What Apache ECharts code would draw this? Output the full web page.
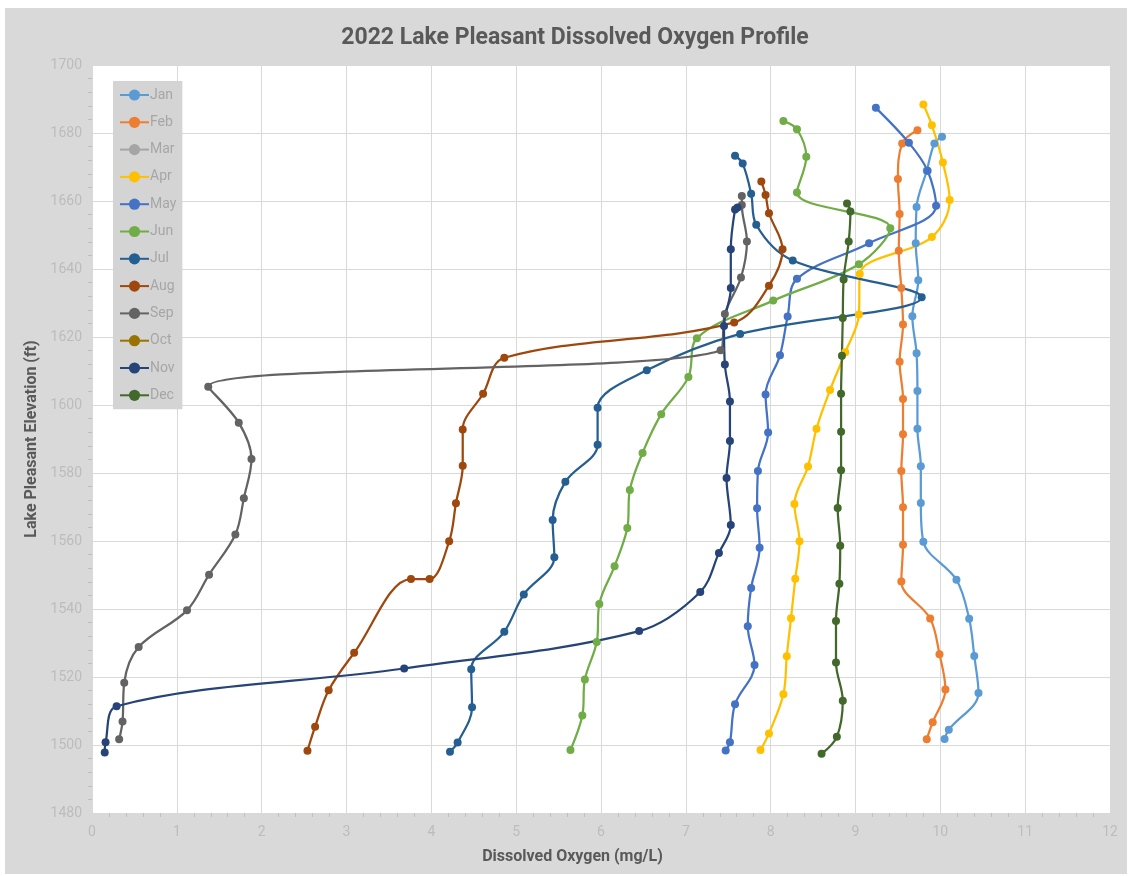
<!DOCTYPE html>
<html>
<head>
<meta charset="utf-8">
<script src="https://cdn.jsdelivr.net/npm/echarts@6/dist/echarts.min.js"></script>
<style>
  html, body { margin: 0; padding: 0; background: #ffffff; }
  #chart { position: absolute; left: 5px; top: 8px; width: 1122px; height: 866px; }
</style>
</head>
<body>
<div id="chart"></div>
<script>
// [dissolved oxygen mg/L, elevation ft]
const jan = [[10.02,1678.9],[9.93,1676.9],[9.84,1668.9],[9.72,1658.2],[9.71,1647.6],[9.74,1636.7],[9.67,1626.1],[9.72,1615.2],[9.73,1604.1],[9.73,1593.0],[9.77,1582.0],[9.77,1571.2],[9.80,1559.8],[10.19,1548.6],[10.34,1537.1],[10.40,1526.2],[10.45,1515.3],[10.10,1504.5],[10.05,1501.8]];
const feb = [[9.73,1680.8],[9.55,1676.9],[9.50,1666.5],[9.52,1656.2],[9.51,1645.4],[9.54,1634.4],[9.56,1623.7],[9.52,1612.7],[9.56,1601.8],[9.56,1591.4],[9.54,1580.6],[9.56,1569.9],[9.56,1558.9],[9.54,1548.1],[9.88,1537.2],[9.99,1526.7],[10.06,1516.3],[9.91,1506.7],[9.84,1501.7]];
const mar = [];
const apr = [[9.80,1688.4],[9.90,1682.3],[10.03,1671.3],[10.11,1660.3],[9.90,1649.4],[9.05,1638.5],[9.04,1626.6],[8.88,1615.5],[8.70,1604.4],[8.54,1593.0],[8.44,1581.9],[8.28,1570.9],[8.34,1559.9],[8.29,1548.9],[8.24,1537.3],[8.19,1526.1],[8.15,1514.9],[7.98,1503.4],[7.88,1498.5]];
const may = [[9.24,1687.4],[9.63,1677.1],[9.85,1668.9],[9.95,1658.6],[9.16,1647.6],[8.31,1637.1],[8.20,1626.0],[8.11,1614.6],[7.94,1603.1],[7.97,1591.9],[7.85,1580.6],[7.84,1569.6],[7.87,1558.0],[7.77,1546.2],[7.73,1534.9],[7.81,1523.5],[7.58,1512.0],[7.52,1500.8],[7.47,1498.4]];
const jun = [[8.15,1683.5],[8.31,1681.1],[8.42,1673.0],[8.31,1662.5],[9.41,1652.0],[9.04,1641.4],[8.03,1630.7],[7.13,1619.6],[7.03,1608.2],[6.71,1597.3],[6.49,1585.9],[6.34,1575.0],[6.31,1563.8],[6.16,1552.6],[5.98,1541.5],[5.95,1530.3],[5.81,1519.3],[5.78,1508.7],[5.64,1498.5]];
const jul = [[7.58,1673.3],[7.67,1671.0],[7.77,1662.1],[7.83,1653.0],[8.26,1642.5],[9.78,1631.7],[7.64,1620.9],[6.54,1610.2],[5.96,1599.2],[5.96,1588.3],[5.58,1577.4],[5.43,1566.2],[5.45,1555.2],[5.09,1544.3],[4.86,1533.3],[4.47,1522.3],[4.48,1511.1],[4.31,1500.7],[4.22,1498.0]];
const aug = [[7.89,1665.7],[7.94,1661.8],[7.98,1656.4],[8.14,1645.8],[7.98,1635.1],[7.57,1624.3],[4.86,1613.9],[4.61,1603.3],[4.37,1592.8],[4.37,1582.1],[4.29,1571.1],[4.21,1559.9],[3.98,1548.8],[3.76,1548.8],[3.09,1527.1],[2.79,1516.1],[2.63,1505.4],[2.54,1498.3]];
const sep = [[7.66,1661.5],[7.66,1658.8],[7.72,1648.1],[7.65,1637.5],[7.46,1626.8],[7.41,1616.1],[1.37,1605.4],[1.73,1594.8],[1.88,1584.1],[1.79,1572.6],[1.69,1561.9],[1.38,1550.1],[1.12,1539.6],[0.55,1528.8],[0.38,1518.3],[0.36,1506.9],[0.32,1501.7]];
const oct = [];
const nov = [[7.61,1658.1],[7.58,1657.5],[7.53,1645.8],[7.53,1634.4],[7.45,1623.2],[7.46,1611.9],[7.52,1601.0],[7.52,1589.4],[7.48,1578.5],[7.53,1564.7],[7.39,1556.5],[7.17,1545.0],[6.45,1533.5],[3.68,1522.5],[0.29,1511.4],[0.16,1500.8],[0.15,1497.8]];
const dec = [[8.90,1659.3],[8.94,1656.9],[8.92,1648.1],[8.86,1636.9],[8.85,1625.6],[8.84,1614.5],[8.83,1603.3],[8.83,1592.1],[8.83,1580.8],[8.79,1569.7],[8.82,1558.6],[8.81,1547.4],[8.77,1536.5],[8.77,1524.3],[8.85,1513.0],[8.78,1502.4],[8.60,1497.4]];

const months = ['Jan','Feb','Mar','Apr','May','Jun','Jul','Aug','Sep','Oct','Nov','Dec'];
const monthData = [jan, feb, mar, apr, may, jun, jul, aug, sep, oct, nov, dec];
const colors = ['#5B9BD5','#ED7D31','#A5A5A5','#FFC000','#4472C4','#70AD47','#255E91','#9E480E','#636363','#997300','#264478','#43682B'];

const chart = echarts.init(document.getElementById('chart'));
const series = months.map((m, i) => ({
  name: m,
  type: 'line',
  data: monthData[i],
  smooth: 0.35,
  symbol: 'circle',
  symbolSize: 8,
  showSymbol: true,
  lineStyle: { width: 2.25, color: colors[i] },
  itemStyle: { color: colors[i] },
  emphasis: { disabled: true },
  animation: false
}));

chart.setOption({
  backgroundColor: '#d9d9d9',
  animation: false,
  textStyle: { fontFamily: 'Roboto' },
  title: {
    text: '2022 Lake Pleasant Dissolved Oxygen Profile',
    left: 565,
    top: 14,
    textAlign: 'center',
    textStyle: { fontFamily: 'Roboto', fontSize: 23, fontWeight: 'bold', color: '#595959' }
  },
  legend: {
    orient: 'vertical',
    left: 108,
    top: 73,
    padding: [7, 6, 7, 6],
    itemGap: 13.3,
    itemWidth: 29,
    itemHeight: 14,
    backgroundColor: '#d4d4d4',
    textStyle: { fontFamily: 'Roboto', fontSize: 14, color: '#a6a6a6', padding: [0, 0, 0, -4] },
    data: months
  },
  grid: {
    left: 87, top: 57, width: 1018, height: 748,
    show: true, backgroundColor: '#ffffff', borderWidth: 0,
    containLabel: false
  },
  xAxis: {
    type: 'value',
    min: 0, max: 12, interval: 1,
    name: 'Dissolved Oxygen (mg/L)',
    nameLocation: 'middle',
    nameGap: 36,
    nameTextStyle: { fontFamily: 'Roboto', fontSize: 16, fontWeight: 'bold', color: '#595959', padding: [0, 57, 0, 0] },
    axisLine: { show: true, lineStyle: { color: '#d9d9d9', width: 1 } },
    axisTick: { show: false },
    minorTick: { show: true, splitNumber: 5, length: 4, lineStyle: { color: '#bfbfbf' } },
    axisLabel: { fontSize: 14, color: '#bcbcbc', margin: 12 },
    splitLine: { show: true, lineStyle: { color: '#d9d9d9', width: 1 } }
  },
  yAxis: {
    type: 'value',
    min: 1480, max: 1700, interval: 20,
    name: 'Lake Pleasant Elevation (ft)',
    nameLocation: 'middle',
    nameGap: 48,
    nameTextStyle: { fontFamily: 'Roboto', fontSize: 16, fontWeight: 'bold', color: '#595959' },
    axisLine: { show: true, lineStyle: { color: '#d9d9d9', width: 1 } },
    axisTick: { show: false },
    minorTick: { show: true, splitNumber: 5, length: 4, lineStyle: { color: '#bfbfbf' } },
    axisLabel: { fontSize: 14, color: '#bcbcbc', margin: 10, formatter: v => String(v) },
    splitLine: { show: true, lineStyle: { color: '#d9d9d9', width: 1 } }
  },
  series: series
});
</script>
</body>
</html>
